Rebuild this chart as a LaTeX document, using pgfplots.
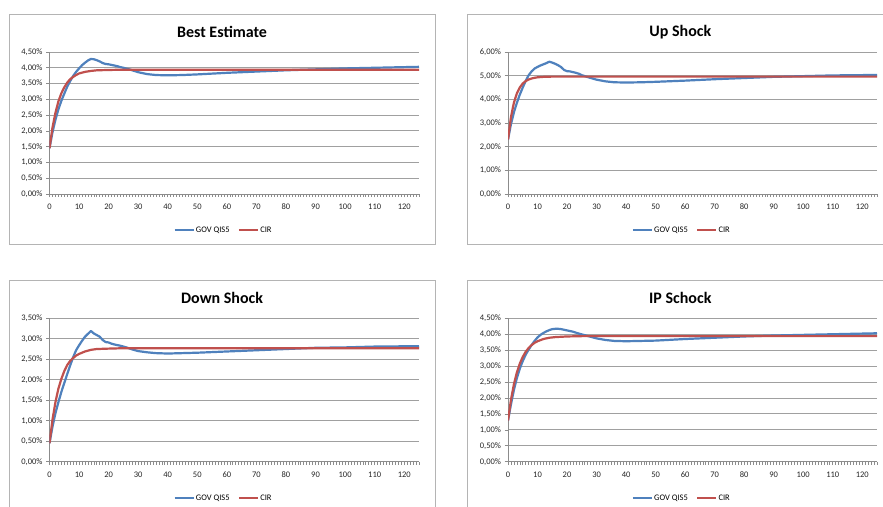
\documentclass[border=0pt]{standalone}
\usepackage{pgfplots}
\pgfplotsset{compat=1.18}
\usepackage{fontspec}
\setmainfont{Carlito}
\definecolor{govblue}{HTML}{4F81BD}
\definecolor{cirred}{HTML}{C0504D}
\definecolor{gridgray}{HTML}{A0A0A0}
\definecolor{axisgray}{HTML}{8C8C8C}
\definecolor{framegray}{HTML}{B4B4B4}
\pgfplotsset{
  legend image code/.code={\draw[#1,line width=2.2pt] (0pt,0pt) -- (19pt,0pt);},
  every axis title shift=0pt,
  panel/.style={
    scale only axis, width=369.5pt, height=142pt,
    xmin=0, xmax=125, ymin=0,
    /pgf/number format/assume math mode=true,
    axis x line=bottom, axis y line=left,
    axis line style={-, draw=axisgray, line width=0.8pt},
    xtick={0,10,...,120}, minor xtick={0,1,...,125},
    tick align=outside, major tick length=3.5pt, minor tick length=3pt,
    every tick/.style={axisgray, line width=0.6pt},
    ymajorgrids, grid style={gridgray, line width=0.9pt},
    ticklabel style={font=\fontsize{8.5}{9}\selectfont, text=black!85},
    xticklabel style={yshift=-3pt},
    title style={at={(axis description cs:0.467,1.141)}, anchor=center, font=\fontsize{16}{16}\selectfont\bfseries},
    legend style={at={(axis description cs:0.47,-0.2535)}, anchor=center, draw=none, fill=none,
      legend columns=-1, font=\fontsize{8.5}{9}\selectfont,
      /tikz/every even column/.append style={column sep=7pt},
      nodes={inner sep=1.2pt}},
    gov/.style={govblue, line width=2.2pt, line join=round, no markers},
    cir/.style={cirred, line width=2.2pt, line join=round, no markers},
  }
}
\begin{document}
\begin{tikzpicture}[x=1pt,y=1pt]
\useasboundingbox (0,0) rectangle (883,506);
\fill[white] (0,0) rectangle (883,506);
\draw[framegray, line width=0.8pt] (9.3,492) rectangle (435.7,262);
\draw[framegray, line width=0.8pt] (467.7,492) rectangle (900,262);
\draw[framegray, line width=0.8pt] (9.3,225.3) rectangle (435.7,-10);
\draw[framegray, line width=0.8pt] (467.7,225.3) rectangle (900,-10);

% ---------------- Best Estimate
\begin{axis}[panel, at={(49.5pt,312pt)}, anchor=south west,
  title={Best Estimate}, ymax=4.5,
  ytick={0,0.5,1,1.5,2,2.5,3,3.5,4,4.5},
  yticklabels={{0,00\%},{0,50\%},{1,00\%},{1,50\%},{2,00\%},{2,50\%},{3,00\%},{3,50\%},{4,00\%},{4,50\%}}]
\addplot[gov] coordinates {(0,1.45)(1,1.95)(2,2.35)(3,2.68)(4,2.95)(5,3.18)(6,3.40)(7,3.58)(8,3.74)(9,3.87)(10,3.98)(11,4.08)(12,4.16)(13,4.23)(14,4.28)(15,4.27)(16,4.24)(17,4.20)(18,4.15)(19,4.12)(20,4.11)(21,4.09)(22,4.07)(23,4.05)(24,4.02)(25,4.00)(27,3.95)(30,3.86)(33,3.80)(36,3.77)(40,3.76)(45,3.77)(50,3.79)(60,3.84)(70,3.88)(80,3.92)(90,3.95)(100,3.98)(110,4.00)(125,4.03)};
\addlegendentry{GOV QIS5}
\addplot[cir] coordinates {(0,1.45)(1,2.10)(2,2.57)(3,2.93)(4,3.19)(5,3.38)(6,3.53)(7,3.64)(8,3.71)(9,3.77)(10,3.82)(12,3.87)(14,3.90)(16,3.92)(20,3.93)(25,3.94)(125,3.94)};
\addlegendentry{CIR}
\end{axis}

% ---------------- Up Shock
\begin{axis}[panel, at={(508pt,312pt)}, anchor=south west, width=369pt,
  title={Up Shock}, ymax=6,
  ytick={0,1,2,3,4,5,6},
  yticklabels={{0,00\%},{1,00\%},{2,00\%},{3,00\%},{4,00\%},{5,00\%},{6,00\%}}]
\addplot[gov] coordinates {(0,2.30)(1,2.95)(2,3.45)(3,3.85)(4,4.20)(5,4.50)(6,4.78)(7,5.02)(8,5.18)(9,5.30)(10,5.37)(11,5.43)(12,5.48)(13,5.53)(14,5.59)(15,5.55)(16,5.50)(17,5.44)(18,5.36)(19,5.24)(20,5.19)(21,5.18)(22,5.15)(23,5.12)(24,5.08)(25,5.02)(27,4.94)(30,4.83)(33,4.76)(36,4.72)(40,4.71)(45,4.72)(50,4.74)(60,4.79)(70,4.85)(80,4.90)(90,4.95)(100,4.98)(110,5.01)(125,5.03)};
\addlegendentry{GOV QIS5}
\addplot[cir] coordinates {(0,2.30)(1,3.25)(2,3.86)(3,4.25)(4,4.50)(5,4.67)(6,4.77)(7,4.84)(8,4.88)(9,4.91)(10,4.93)(12,4.95)(15,4.96)(125,4.96)};
\addlegendentry{CIR}
\end{axis}

% ---------------- Down Shock
\begin{axis}[panel, at={(49.5pt,44.3pt)}, anchor=south west, height=143.4pt,
  title={Down Shock}, ymax=3.5,
  ytick={0,0.5,1,1.5,2,2.5,3,3.5},
  yticklabels={{0,00\%},{0,50\%},{1,00\%},{1,50\%},{2,00\%},{2,50\%},{3,00\%},{3,50\%}}]
\addplot[gov] coordinates {(0,0.45)(1,0.85)(2,1.18)(3,1.45)(4,1.70)(5,1.92)(6,2.14)(7,2.35)(8,2.55)(9,2.72)(10,2.84)(11,2.95)(12,3.05)(13,3.12)(14,3.19)(15,3.13)(16,3.09)(17,3.05)(18,2.97)(19,2.92)(20,2.91)(21,2.88)(22,2.86)(24,2.83)(26,2.79)(28,2.74)(30,2.70)(33,2.67)(36,2.65)(40,2.64)(50,2.66)(60,2.69)(70,2.72)(80,2.75)(90,2.78)(100,2.79)(110,2.81)(125,2.82)};
\addlegendentry{GOV QIS5}
\addplot[cir] coordinates {(0,0.45)(1,1.02)(2,1.45)(3,1.78)(4,2.02)(5,2.21)(6,2.36)(7,2.46)(8,2.53)(9,2.59)(10,2.63)(12,2.69)(14,2.73)(16,2.75)(20,2.76)(25,2.77)(125,2.77)};
\addlegendentry{CIR}
\end{axis}

% ---------------- IP Schock
\begin{axis}[panel, at={(508pt,44.3pt)}, anchor=south west, width=369pt, height=143.4pt,
  title={IP Schock}, ymax=4.5,
  ytick={0,0.5,1,1.5,2,2.5,3,3.5,4,4.5},
  yticklabels={{0,00\%},{0,50\%},{1,00\%},{1,50\%},{2,00\%},{2,50\%},{3,00\%},{3,50\%},{4,00\%},{4,50\%}}]
\addplot[gov] coordinates {(0,1.29)(1,1.80)(2,2.25)(3,2.62)(4,2.92)(5,3.16)(6,3.36)(7,3.52)(8,3.66)(9,3.79)(10,3.90)(11,3.98)(12,4.04)(13,4.09)(14,4.13)(15,4.16)(16,4.17)(17,4.17)(18,4.16)(19,4.14)(20,4.12)(22,4.08)(24,4.02)(26,3.97)(28,3.92)(30,3.87)(33,3.82)(36,3.79)(40,3.78)(50,3.80)(60,3.85)(70,3.89)(80,3.93)(90,3.96)(100,3.98)(110,4.00)(125,4.03)};
\addlegendentry{GOV QIS5}
\addplot[cir] coordinates {(0,1.29)(1,1.94)(2,2.43)(3,2.80)(4,3.08)(5,3.29)(6,3.45)(7,3.57)(8,3.66)(9,3.73)(10,3.78)(12,3.85)(14,3.89)(16,3.91)(20,3.93)(25,3.94)(125,3.94)};
\addlegendentry{CIR}
\end{axis}
\end{tikzpicture}
\end{document}
